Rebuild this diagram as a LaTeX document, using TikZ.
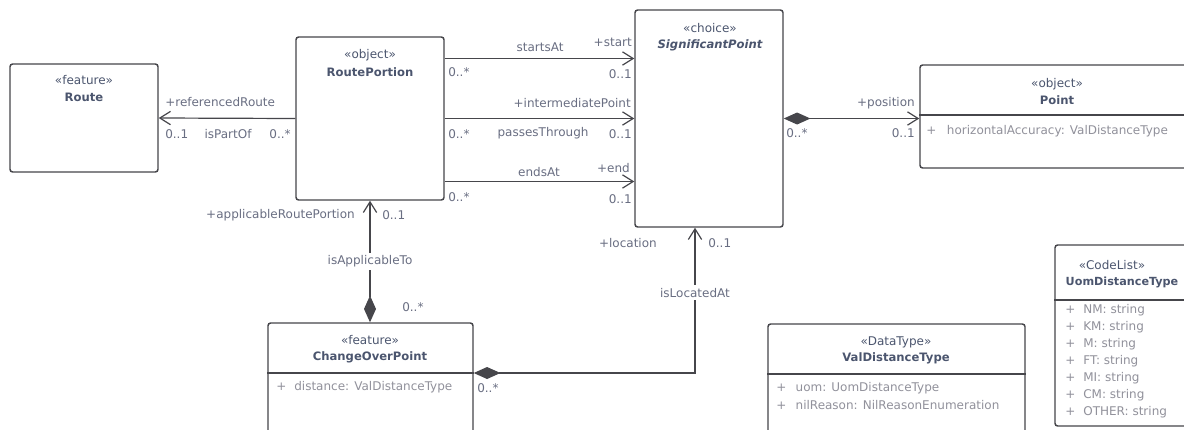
\documentclass[tikz,border=0pt]{standalone}
\usepackage{fontspec}
\setmainfont{DejaVu Sans}
\usetikzlibrary{arrows.meta,calc,fit}

\definecolor{umlline}{RGB}{70,70,75}
\definecolor{umlname}{RGB}{75,85,110}
\definecolor{umllabel}{RGB}{105,110,130}
\definecolor{umlattr}{RGB}{145,145,155}

\tikzset{
  classbox/.style={draw=umlline, line width=1.1pt, rounded corners=2pt, inner sep=0pt, fill=white},
  stereo/.style={text=umlname, font=\fontsize{9}{10}\selectfont, inner sep=0pt},
  clname/.style={text=umlname, font=\fontsize{8.7}{10}\selectfont\bfseries, inner sep=0pt},
  attr/.style={text=umlattr, font=\fontsize{9}{10}\selectfont, inner sep=0pt, anchor=west},
  lbl/.style={text=umllabel, font=\fontsize{9}{10}\selectfont, inner sep=0pt},
  divider/.style={draw=umlline, line width=1.1pt},
  assoc/.style={draw=umlline, line width=0.9pt, -{Straight Barb[length=8pt,width=10pt]}},
  compos/.style={draw=umlline, line width=0.9pt, {Diamond[length=20pt,width=9pt]}-{Straight Barb[length=8pt,width=10pt]}},
}

\begin{document}
\begin{tikzpicture}[x=0.75pt, y=-0.75pt]
    \useasboundingbox (0,0) rectangle (1184,429);
    \clip (0,0) rectangle (1184,429);
    \fill[white] (0,0) rectangle (1184,429);

    \node[classbox, fit={(10,64) (158,172)}] (route) {};
    \node[stereo] (route-st) at (84,80) {«feature»};
    \node[clname] (route-nm) at (84,97) {Route};

    \node[classbox, fit={(296,37) (444,200)}] (rp) {};
    \node[stereo] (rp-st) at (370,55) {«object»};
    \node[clname] (rp-nm) at (370,72) {RoutePortion};

    \node[classbox, fit={(635,10) (783,227)}] (sp) {};
    \node[stereo] (sp-st) at (710,28) {«choice»};
    \node[clname, font=\fontsize{8.7}{10}\selectfont\bfseries\itshape] (sp-nm) at (710,45) {SignificantPoint};

    \node[classbox, fit={(920,65) (1200,168)}] (pt) {};
    \node[stereo] (pt-st) at (1057,84) {«object»};
    \node[clname] (pt-nm) at (1057,100) {Point};
    \coordinate (ptdiv) at (0,115);
    \draw[divider] (pt.west |- ptdiv) -- (pt.east |- ptdiv);
    \node[attr] (pt-a1) at (926,131) {+\hspace{8pt}horizontalAccuracy: ValDistanceType};

    \node[classbox, fit={(268,323) (473,450)}] (cop) {};
    \node[stereo] (cop-st) at (370,340) {«feature»};
    \node[clname] (cop-nm) at (370,357) {ChangeOverPoint};
    \coordinate (copdiv) at (0,373);
    \draw[divider] (cop.west |- copdiv) -- (cop.east |- copdiv);
    \node[attr] (cop-a1) at (276,387) {+\hspace{6pt}distance: ValDistanceType};

    \node[classbox, fit={(768,324) (1025,450)}] (vdt) {};
    \node[stereo] (vdt-st) at (896,342) {«DataType»};
    \node[clname] (vdt-nm) at (896,358) {ValDistanceType};
    \coordinate (vdtdiv) at (0,374);
    \draw[divider] (vdt.west |- vdtdiv) -- (vdt.east |- vdtdiv);
    \node[attr] (vdt-a1) at (776,388) {+\hspace{7pt}uom: UomDistanceType};
    \node[attr] (vdt-a2) at (776,405) {+\hspace{7pt}nilReason: NilReasonEnumeration};

    \node[classbox, fit={(1055,245) (1200,426)}] (udt) {};
    \node[stereo] (udt-st) at (1112,265) {«CodeList»};
    \node[clname, font=\fontsize{8.4}{10}\selectfont\bfseries] (udt-nm) at (1122,282) {UomDistanceType};
    \coordinate (udtdiv) at (0,300);
    \draw[divider] (udt.west |- udtdiv) -- (udt.east |- udtdiv);
    \foreach \val [count=\i] in {NM,KM,M,FT,MI,CM,OTHER}
        \node[attr] (udt-a\i) at (1065,293+17*\i) {+\hspace{6pt}\val: string};

    \draw[assoc] (rp.west) -- (route.east);
    \node[lbl, anchor=west] (route-role) at (165,102) {+referencedRoute};
    \node[lbl, anchor=west] (route-m1) at (165,134) {0..1};
    \node[lbl] (route-as) at (228,134) {isPartOf};
    \node[lbl, anchor=east] (route-m2) at (291,134) {0..*};

    \draw[assoc] ($(rp.east)+(0,-60)$) -- ($(sp.west)+(0,-60)$);
    \node[lbl] (start-as) at (540,47) {startsAt};
    \node[lbl, anchor=east] (start-role) at (632,42) {+start};
    \node[lbl, anchor=west] (start-m1) at (448,72) {0..*};
    \node[lbl, anchor=east] (start-m2) at (632,74) {0..1};

    \draw[assoc] (rp.east) -- (sp.west);
    \node[lbl, anchor=east] (inter-role) at (631,103) {+intermediatePoint};
    \node[lbl, anchor=west] (inter-m1) at (448,134) {0..*};
    \node[lbl] (inter-as) at (543,133) {passesThrough};
    \node[lbl, anchor=east] (inter-m2) at (632,134) {0..1};

    \draw[assoc] ($(rp.east)+(0,63)$) -- ($(sp.west)+(0,63)$);
    \node[lbl] (end-as) at (539,172) {endsAt};
    \node[lbl, anchor=east] (end-role) at (630,168) {+end};
    \node[lbl, anchor=west] (end-m1) at (448,197) {0..*};
    \node[lbl, anchor=east] (end-m2) at (632,199) {0..1};

    \draw[compos] (sp.east) -- (sp.east -| pt.west);
    \node[lbl, anchor=east] (pos-role) at (915,103) {+position};
    \node[lbl, anchor=west] (pos-m1) at (786,133) {0..*};
    \node[lbl, anchor=east] (pos-m2) at (915,133) {0..1};

    \draw[compos] (cop.north -| rp.south) -- (rp.south)
        node[lbl, pos=0.5, fill=white, inner ysep=2pt] (app-as) {isApplicableTo};
    \node[lbl, anchor=east] (app-role) at (355,215) {+applicableRoutePortion};
    \node[lbl, anchor=west] (app-m1) at (382,215) {0..1};
    \node[lbl, anchor=west] (app-m2) at (402,307) {0..*};

    \draw[compos] (cop.east |- copdiv) -| ($(sp.south)+(-14,0)$)
        node[lbl, pos=0.777, fill=white, inner ysep=2pt] (loc-as) {isLocatedAt};
    \node[lbl, anchor=east] (loc-role) at (657,243) {+location};
    \node[lbl, anchor=west] (loc-m1) at (708,243) {0..1};
    \node[lbl, anchor=west] (loc-m2) at (477,388) {0..*};
\end{tikzpicture}
\end{document}
